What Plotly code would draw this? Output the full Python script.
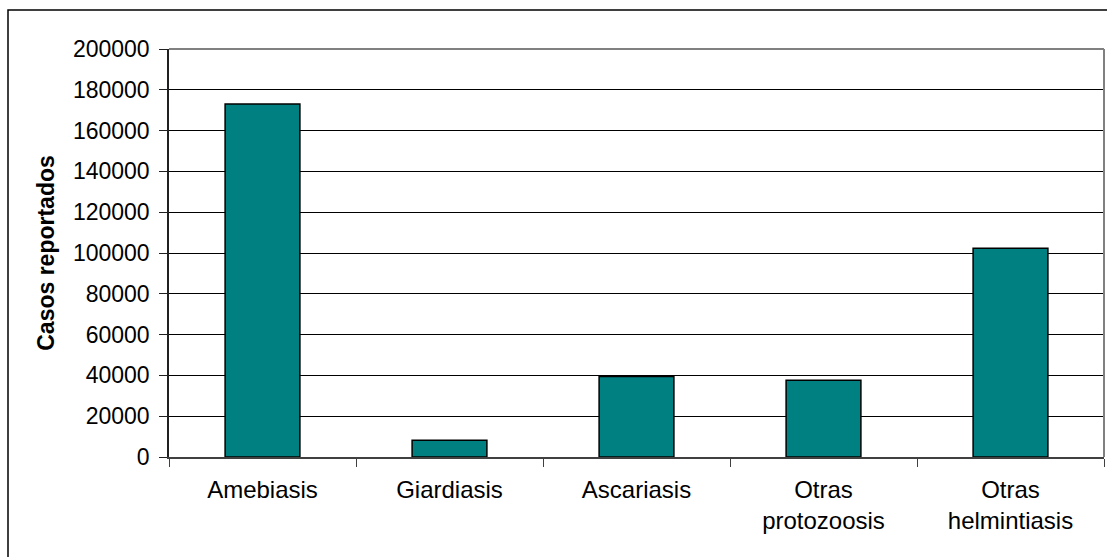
import plotly.graph_objects as go

# Casos reportados por tipo de parasitosis intestinal
categorias = ["Amebiasis", "Giardiasis", "Ascariasis", "Otras<br>protozoosis", "Otras<br>helmintiasis"]
casos = [173000, 8200, 39500, 37600, 102300]

y_ticks = list(range(0, 200001, 20000))

PLOT_L, PLOT_R, PLOT_T, PLOT_B = 169, 1104, 49, 457
W, H = 1107, 557
pw = PLOT_R - PLOT_L
ph = PLOT_B - PLOT_T

FONT = "Liberation Sans, Arial, sans-serif"

fig = go.Figure(
    go.Bar(
        x=categorias,
        y=casos,
        marker=dict(color="#008080", line=dict(color="#000000", width=1.5)),
        width=0.4,
    )
)

fig.update_layout(
    width=W,
    height=H,
    margin=dict(l=PLOT_L, r=W - PLOT_R, t=PLOT_T, b=H - PLOT_B, pad=0),
    paper_bgcolor="white",
    plot_bgcolor="white",
    font=dict(family=FONT, size=23, color="#000000"),
    showlegend=False,
    bargap=0.6,
)

fig.update_xaxes(
    type="category",
    showgrid=False,
    showline=True,
    linecolor="#404040",
    linewidth=2,
    ticks="outside",
    tickson="boundaries",
    ticklen=8,
    tickcolor="#404040",
    tickwidth=1,
    ticklabelstandoff=10,
    tickfont=dict(size=24),
    mirror=False,
)

fig.update_yaxes(
    range=[0, 200000],
    tickvals=y_ticks,
    ticktext=[str(v) for v in y_ticks],
    showgrid=True,
    gridcolor="#000000",
    gridwidth=1,
    showline=True,
    linecolor="#202020",
    linewidth=1.5,
    ticks="outside",
    ticklen=8,
    tickcolor="#202020",
    ticklabelstandoff=5,
    tickfont=dict(size=23),
    zeroline=False,
    title=dict(text="<b>Casos reportados</b>", font=dict(size=23), standoff=12),
)

# grey plot-area border on top and right
fig.add_shape(type="line", xref="paper", yref="paper", x0=0, x1=1, y0=1, y1=1,
              line=dict(color="#808080", width=2))
fig.add_shape(type="line", xref="paper", yref="paper", x0=1, x1=1, y0=0, y1=1,
              line=dict(color="#808080", width=2))

# outer chart frame
fig.add_shape(type="rect", xref="paper", yref="paper",
              x0=(8 - PLOT_L) / pw, x1=(W + 10 - PLOT_L) / pw,
              y0=(PLOT_B - (H + 10)) / ph, y1=(PLOT_B - 10) / ph,
              line=dict(color="#000000", width=1.5), layer="below")

fig.write_html("out.html")
